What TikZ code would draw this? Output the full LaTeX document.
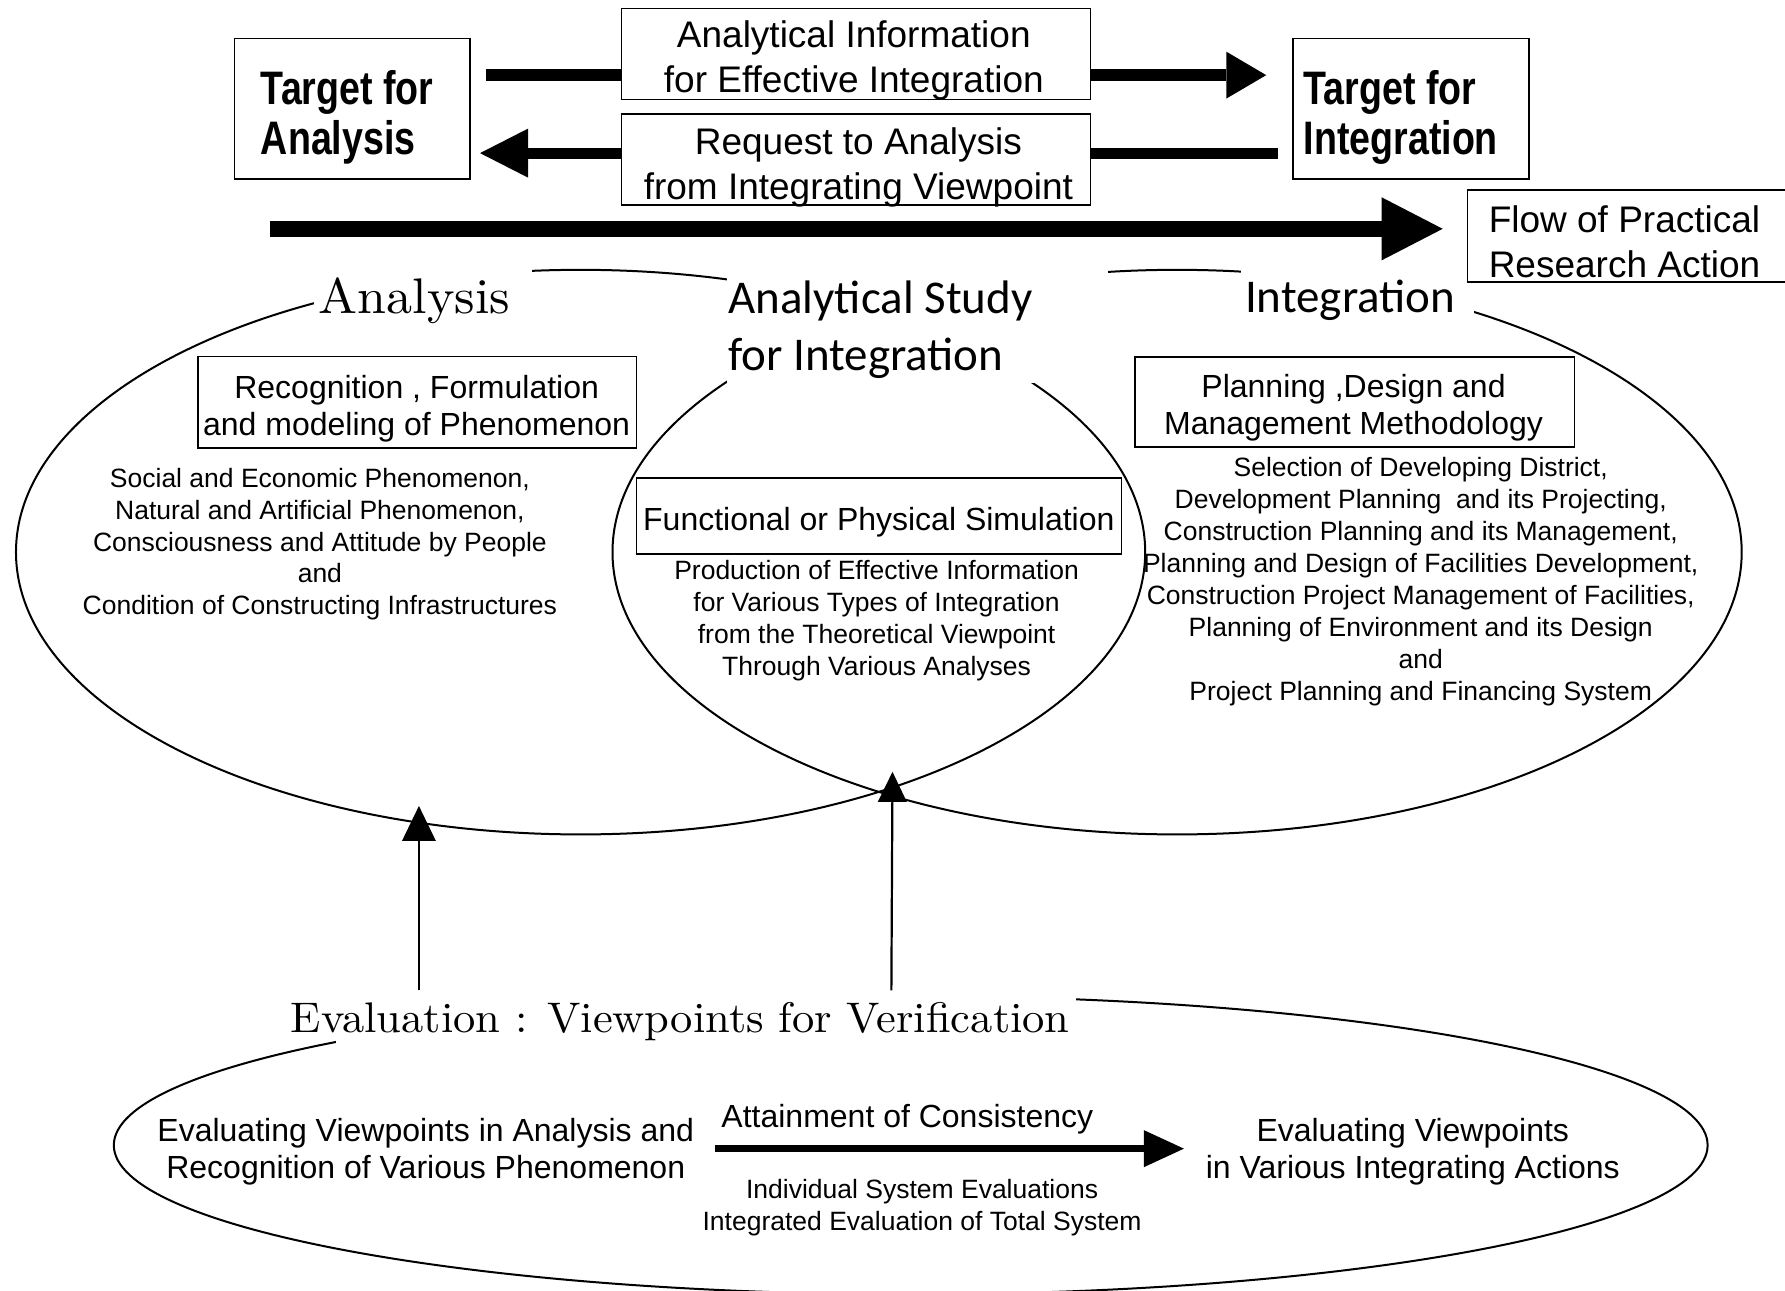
\documentclass[tikz,border=0pt]{standalone}
\usepackage{fontspec}
\usetikzlibrary{arrows.meta}
\newfontfamily\arialf{Liberation Sans}
\newfontfamily\tgtf[FakeStretch=0.8]{Liberation Sans}
\newfontfamily\calf{Carlito}
\newfontfamily\lmwide[Extension=.otf,FakeStretch=1.04]{lmroman10-regular}
\begin{document}
\begin{tikzpicture}[x=1.1384pt,y=-1.1384pt,
  box/.style={draw,line width=1.6pt,fill=white,inner sep=0pt},
  ftgt/.style={font=\tgtf\bfseries\fontsize{47}{50}\selectfont,align=left,inner sep=0pt,anchor=west},
  ftop/.style={font=\arialf\fontsize{37}{45}\selectfont,align=center,inner sep=0pt},
  fbx/.style={font=\arialf\fontsize{32}{37.5}\selectfont,align=center,inner sep=0pt},
  fbody/.style={font=\arialf\fontsize{26.5}{31.9}\selectfont,align=center,inner sep=0pt},
  fhead/.style={font=\calf\fontsize{47}{57}\selectfont,inner sep=0pt},
  flm/.style={font=\lmwide\fontsize{50}{58}\selectfont,inner sep=0pt},
  flme/.style={font=\lmwide\fontsize{42.8}{52}\selectfont,inner sep=0pt},
  ring/.style={line width=2pt},
  mask/.style={fill=white},
  upar/.style={line width=2.2pt}
]
\useasboundingbox (0,0) rectangle (1568,1134);
\fill[white] (0,0) rectangle (1568,1134);

% ellipses
\draw[ring] (510,485) ellipse [x radius=564.6pt, y radius=282.3pt];
\draw[ring] (1034,485) ellipse [x radius=564.6pt, y radius=282.3pt];
\draw[ring] (800,1006) ellipse [x radius=796.9pt, y radius=149.1pt];

% masks behind labels
\fill[mask] (276,228) rectangle (467,292);
\fill[mask] (638.5,230) rectangle (973,336);
\fill[mask] (1090,228) rectangle (1295,292);
\fill[mask] (295,871) rectangle (945,917);

% boxes
\node[box, minimum width=235.6pt, minimum height=140.4pt] (ta) at (309.5,95.35) {};
\node[box, minimum width=235.6pt, minimum height=140.4pt] (ti) at (1239.5,95.35) {};
\node[box, minimum width=469pt, minimum height=91.1pt] (ainfo) at (752,47.5) {};
\node[box, minimum width=469pt, minimum height=91.1pt] (req) at (752,140) {};
\node[box, minimum width=331.3pt, minimum height=91.6pt] (flowbox) at (1434.5,207.25) {};
\node[box, minimum width=438.3pt, minimum height=91.1pt] (recog) at (366.5,353.3) {};
\node[box, minimum width=485pt, minimum height=75.7pt] (func) at (772,453.25) {};
\node[box, minimum width=439.4pt, minimum height=89.9pt] (plan) at (1190,353) {};

% texts
\node[ftgt] (tat) at (229,103.3) {Target for\\Analysis};
\node[ftgt] (tit) at (1145,103.3) {Target for\\Integration};
\node[ftop] (ainfot) at (750,53.5) {Analytical Information\\for Effective Integration};
\node[ftop] (reqt) at (754,147.3) {Request to Analysis\\from Integrating Viewpoint};
\node[ftop] (flowt) at (1427,212) {Flow of Practical\\Research Action};
\node[flm] (anl) at (364,264.5) {Analysis};
\node[fhead,align=left,anchor=west] (asl) at (639.5,289.7) {Analytical Study\\for Integration};
\node[fhead] (intl) at (1186,263.5) {Integration};
\node[fbx] (recogt) at (366,359) {Recognition , Formulation\\and modeling of Phenomenon};
\node[fbody] (soct) at (281,478) {Social and Economic Phenomenon,\\Natural and Artificial Phenomenon,\\Consciousness and Attitude by People\\and\\Condition of Constructing Infrastructures};
\node[fbx] (funct) at (772,458.5) {Functional or Physical Simulation};
\node[fbody] (prodt) at (770,545) {Production of Effective Information\\for Various Types of Integration\\from the Theoretical Viewpoint\\Through Various Analyses};
\node[fbx] (plant) at (1189,358) {Planning ,Design and\\Management Methodology};
\node[fbody] (selt) at (1248,511) {Selection of Developing District,\\Development Planning\ \ and its Projecting,\\Construction Planning and its Management,\\Planning and Design of Facilities Development,\\Construction Project Management of Facilities,\\Planning of Environment and its Design\\and\\Project Planning and Financing System};
\node[flme] (evl) at (597.5,897.3) {Evaluation : Viewpoints for Verification};
\node[fbx] (evlt) at (374,1011.5) {Evaluating Viewpoints in Analysis and\\Recognition of Various Phenomenon};
\node[fbx] (att) at (797,983.5) {Attainment of Consistency};
\node[fbody] (ind) at (810,1061) {Individual System Evaluations\\Integrated Evaluation of Total System};
\node[fbx] (evrt) at (1241,1011.5) {Evaluating Viewpoints\\in Various Integrating Actions};

% thick arrows between top boxes
\coordinate (ya) at (0,66);
\coordinate (yb) at (0,134.5);
\draw[line width=12pt, shorten <=15.4pt] (ta.east |- ya) -- (ainfo.west |- ya);
\draw[line width=12pt, -{Triangle[length=40pt,width=47pt,line width=0pt]}, shorten >=26.2pt] (ainfo.east |- ya) -- (ti.west |- ya);
\draw[line width=11pt, shorten <=14.8pt] (ti.west |- yb) -- (req.east |- yb);
\draw[line width=11pt, -{Triangle[length=48pt,width=49pt,line width=0pt]}, shorten >=9.1pt] (req.west |- yb) -- (ta.east |- yb);

% flow arrow
\coordinate (fs) at (237,201);
\draw[line width=16pt, -{Triangle[length=61pt,width=63pt,line width=0pt]}, shorten >=23.9pt] (fs) -- (flowbox.west |- fs);

% upward arrows
\coordinate (u1) at (368,870);
\coordinate (u1t) at (368,708);
\draw[upar, -{Triangle[length=35pt,width=34pt,line width=0pt]}] (u1) -- (u1t);
\coordinate (u2) at (783,870);
\coordinate (u2t) at (784,678);
\draw[upar, -{Triangle[length=30pt,width=29pt,line width=0pt]}] (u2) -- (u2t);

% consistency arrow
\coordinate (c1) at (628,1009);
\coordinate (c2) at (1040,1009);
\draw[line width=7pt, -{Triangle[length=40pt,width=37pt,line width=0pt]}] (c1) -- (c2);
\end{tikzpicture}
\end{document}
